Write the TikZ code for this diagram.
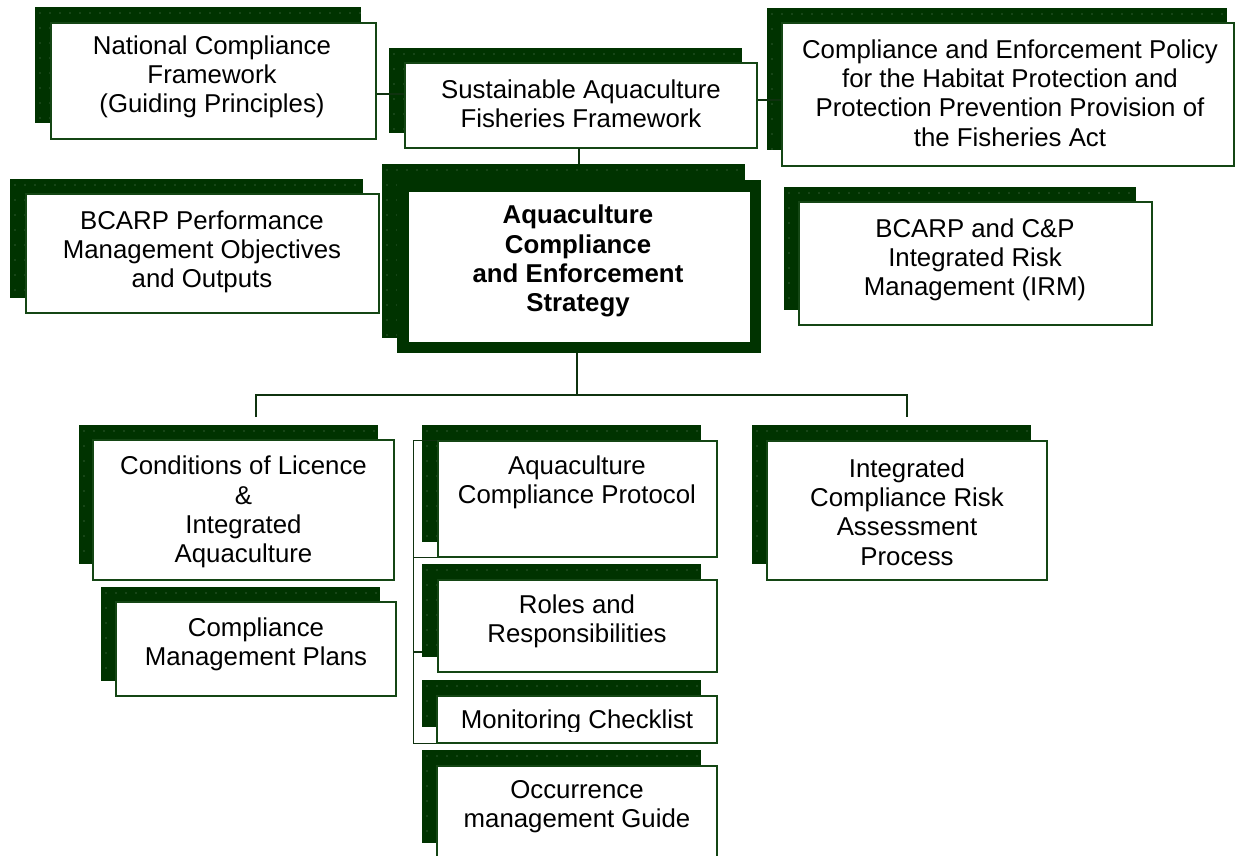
\documentclass[tikz,border=0pt]{standalone}
\usepackage{fontspec}
\setmainfont{Liberation Sans}
\usetikzlibrary{fit}
\definecolor{shc}{RGB}{0,51,0}
\definecolor{dotc}{RGB}{100,130,100}
\definecolor{bdc}{RGB}{20,70,20}
\definecolor{lnc}{RGB}{15,50,15}
\newcommand\fs{\fontsize{12.9}{14.6}\selectfont}
\newcommand\shbox[4]{%
  \fill[shc] (#1,#2) rectangle (#3,#4);
  \pgfmathtruncatemacro\nxx{(#3-#1-6)/10}%
  \pgfmathtruncatemacro\nyy{(#4-#2-6)/15}%
  \foreach \i in {0,...,\nxx}{\foreach \j in {0,...,\nyy}{%
    \fill[dotc] ({#1+5+10*\i},{#2+6+15*\j}) circle[radius=0.35pt];}}%
}
\tikzset{
  wbox/.style={draw=bdc, fill=white, line width=0.7pt, inner sep=0pt},
  thickbox/.style={draw=shc, fill=white, line width=5.75pt, inner sep=0pt},
  txt/.style={align=center, font=\fs, inner sep=0pt, text=black},
  conn/.style={draw=lnc, line width=0.7pt},
}
\begin{document}
\begin{tikzpicture}[x=0.5pt,y=-0.5pt]
\clip (0,0) rectangle (1236,856);
\fill[white] (0,0) rectangle (1236,856);
% connector points
\coordinate (cesb) at (577,353);
\coordinate (bar) at (577,395);
\coordinate (barL) at (256,395);
\coordinate (barR) at (907,395);
\coordinate (dropL) at (256,417);
\coordinate (dropR) at (907,417);
% boxes: shadows then white boxes
\shbox{35}{7}{361}{123}
\node[wbox, fit={(51,23) (376,139)}] (ncf) {};
\shbox{389}{48}{742}{133}
\node[wbox, fit={(405,63) (757,148)}] (saf) {};
\shbox{767}{8}{1227}{150}
\node[wbox, fit={(782,23) (1234,166)}] (cep) {};
\shbox{10}{179}{363}{298}
\node[wbox, fit={(26,194) (379,313)}] (bpm) {};
\shbox{382}{164}{745}{338}
\node[thickbox, fit={(402.75,185.75) (755.25,347.25)}] (ces) {};
\shbox{784}{187}{1136}{310}
\node[wbox, fit={(799,202) (1152,325)}] (irm) {};
\shbox{79}{425}{378}{564}
\node[wbox, fit={(93,440) (394,580)}] (col) {};
\shbox{101}{587}{380}{681}
\node[wbox, fit={(116,602) (396,696)}] (cmp) {};
\shbox{422}{425}{701}{542}
\node[wbox, fit={(438,441) (717,557)}] (acp) {};
\shbox{422}{564}{701}{657}
\node[wbox, fit={(438,580) (717,672)}] (rr) {};
\shbox{422}{680}{701}{727}
\node[wbox, fit={(437,696) (717,743)}] (mc) {};
\shbox{422}{750}{701}{843}
\node[wbox, fit={(437,766) (717,900)}] (omg) {};
\shbox{752}{425}{1031}{564}
\node[wbox, fit={(767,441) (1047,580)}] (icra) {};
% connectors
\draw[conn] (ncf.east |- 0,94) -- (saf.west |- 0,94);
\draw[conn] (saf.east |- 0,100) -- (cep.west |- 0,100);
\draw[conn] (579,148) -- (579,164);
\draw[conn] (cesb) -- (bar);
\draw[conn] (dropL) -- (barL) -- (barR) -- (dropR);
\draw[conn] (acp.north west) -- ++(-24,0) |- (mc.south west);
\draw[conn] (acp.south west) -- ++(-24,0);
\draw[conn] (414,652) -- (422,652);
% texts
\node[txt] (t-ncf) at (212,77) {National Compliance\\Framework\\(Guiding Principles)};
\node[txt] (t-saf) at (581,104) {Sustainable Aquaculture\\Fisheries Framework};
\node[txt] (t-cep) at (1010,93) {Compliance and Enforcement Policy\\for the Habitat Protection and\\Protection Prevention Provision of\\the Fisheries Act};
\node[txt] (t-bpm) at (202,252) {BCARP Performance\\Management Objectives\\and Outputs};
\node[txt, font=\fs\bfseries] (t-ces) at (578,261) {Aquaculture\\Compliance\\and Enforcement\\Strategy};
\node[txt] (t-irm) at (975,260) {BCARP and C\&P\\Integrated Risk\\Management (IRM)};
\node[txt] (t-col) at (243.5,512) {Conditions of Licence\\\&\\Integrated\\Aquaculture};
\node[txt] (t-cmp) at (256,644) {Compliance\\Management Plans};
\node[txt] (t-acp) at (577,482) {Aquaculture\\Compliance Protocol};
\node[txt] (t-rr) at (577,621) {Roles and\\Responsibilities};
\begin{scope}
\clip (437,696) rectangle (717,731);
\node[txt] (t-mc) at (577,722) {Monitoring Checklist};
\end{scope}
\node[txt] (t-omg) at (577,807) {Occurrence\\management Guide};
\node[txt] (t-icra) at (907,512) {Integrated\\Compliance Risk\\Assessment\\Process};
\end{tikzpicture}
\end{document}
